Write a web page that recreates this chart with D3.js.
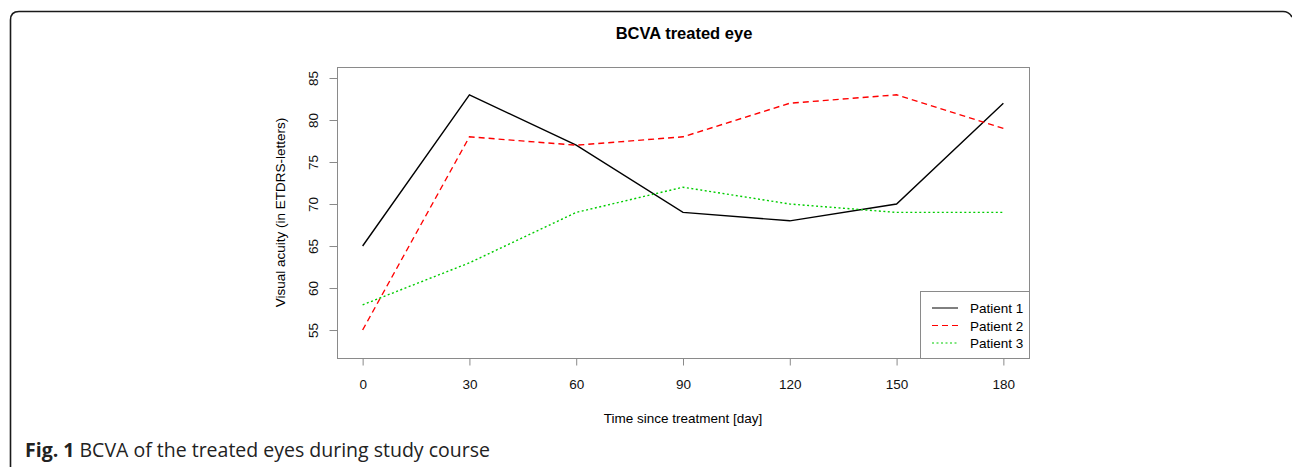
<!DOCTYPE html>
<html><head><meta charset="utf-8">
<script src="https://cdn.jsdelivr.net/npm/d3@7"></script>
<style>html,body{margin:0;padding:0;background:#fff;}svg{display:block;}</style>
</head><body>
<script>
const days = [0, 30, 60, 90, 120, 150, 180];
const patient1 = [65, 83, 77, 69, 68, 70, 82];
const patient2 = [55, 78, 77, 78, 82, 83, 79];
const patient3 = [58, 63, 69, 72, 70, 69, 69];
const seriesNames = ["Patient 1", "Patient 2", "Patient 3"];
const xTicks = [0, 30, 60, 90, 120, 150, 180];
const yTicks = [55, 60, 65, 70, 75, 80, 85];

const W = 1292, H = 467;
const svg = d3.select("body").append("svg").attr("width", W).attr("height", H);

// outer frame
svg.append("path")
  .attr("d", "M10.5,467 L10.5,20 Q10.5,11.5 19,11.5 L1283,11.5 Q1289,11.5 1292,17")
  .attr("fill", "none").attr("stroke", "#1a1a1a").attr("stroke-width", 1.6);

const L = 337, R = 1029, T = 67, B = 358;
const x = d3.scaleLinear().domain([-7.2, 187.2]).range([L, R]);
const y = d3.scaleLinear().domain([51.67, 86.31]).range([B, T]);

const axisColor = "#8a8a8a";
const font = "'Liberation Sans', Arial, sans-serif";

// plot box
svg.append("rect").attr("x", L + 0.5).attr("y", T + 0.5)
  .attr("width", R - L).attr("height", B - T)
  .attr("fill", "none").attr("stroke", axisColor).attr("stroke-width", 1);

// x axis
const xa = svg.append("g").attr("transform", `translate(0,${B + 0.5})`)
  .call(d3.axisBottom(x).tickValues(xTicks).tickSize(7).tickPadding(14).tickFormat(d3.format("d")));
xa.select(".domain").remove();
xa.selectAll("line").attr("stroke", axisColor);
xa.selectAll("text").attr("font-family", font).attr("font-size", 13.5).attr("fill", "#111");

// y axis
const ya = svg.append("g").attr("transform", `translate(${L + 0.5},0)`)
  .call(d3.axisLeft(y).tickValues(yTicks).tickSize(8).tickPadding(0).tickFormat(d3.format("d")));
ya.select(".domain").remove();
ya.selectAll("line").attr("stroke", axisColor);
ya.selectAll("text")
  .attr("font-family", font).attr("font-size", 13.5).attr("fill", "#111")
  .attr("text-anchor", "middle").attr("x", 0).attr("dy", 0)
  .attr("transform", "translate(-20,0) rotate(-90)");

// title & labels
svg.append("text").attr("x", 684).attr("y", 39).attr("text-anchor", "middle")
  .attr("font-family", font).attr("font-weight", "bold").attr("font-size", 16.5).text("BCVA treated eye");
svg.append("text").attr("x", (L + R) / 2).attr("y", 423).attr("text-anchor", "middle")
  .attr("font-family", font).attr("font-size", 13.5).text("Time since treatment [day]");
svg.append("text").attr("transform", `translate(285,${(T + B) / 2}) rotate(-90)`).attr("text-anchor", "middle")
  .attr("font-family", font).attr("font-size", 13.5).text("Visual acuity (in ETDRS-letters)");

// lines
const series = [
  { name: seriesNames[0], values: patient1, color: "#000000", dash: null },
  { name: seriesNames[1], values: patient2, color: "#ff0000", dash: "6,4" },
  { name: seriesNames[2], values: patient3, color: "#00cd00", dash: "2,2.5" }
];
const line = d3.line().x((d, i) => x(days[i])).y(d => y(d));
series.forEach(s => {
  svg.append("path").datum(s.values).attr("d", line)
    .attr("fill", "none").attr("stroke", s.color).attr("stroke-width", 1.4)
    .attr("stroke-dasharray", s.dash);
});

// legend
const lgX = 920, lgY = 291;
svg.append("rect").attr("x", lgX + 0.5).attr("y", lgY + 0.5).attr("width", R - lgX).attr("height", B - lgY)
  .attr("fill", "#fff").attr("stroke", axisColor).attr("stroke-width", 1);
series.forEach((s, i) => {
  const yy = lgY + 17 + i * 17.5;
  svg.append("line").attr("x1", lgX + 12).attr("x2", lgX + 38).attr("y1", yy).attr("y2", yy)
    .attr("stroke", s.color).attr("stroke-width", 1).attr("stroke-dasharray", s.dash);
  svg.append("text").attr("x", lgX + 50).attr("y", yy + 5).attr("font-family", font)
    .attr("font-size", 13.5).text(s.name);
});

// caption
const cap = svg.append("text").attr("x", 25).attr("y", 457)
  .attr("font-family", "'Open Sans', sans-serif").attr("font-size", 19.5).attr("fill", "#222");
cap.append("tspan").attr("font-weight", "bold").text("Fig. 1");
cap.append("tspan").text(" BCVA of the treated eyes during study course");
</script>
</body></html>
